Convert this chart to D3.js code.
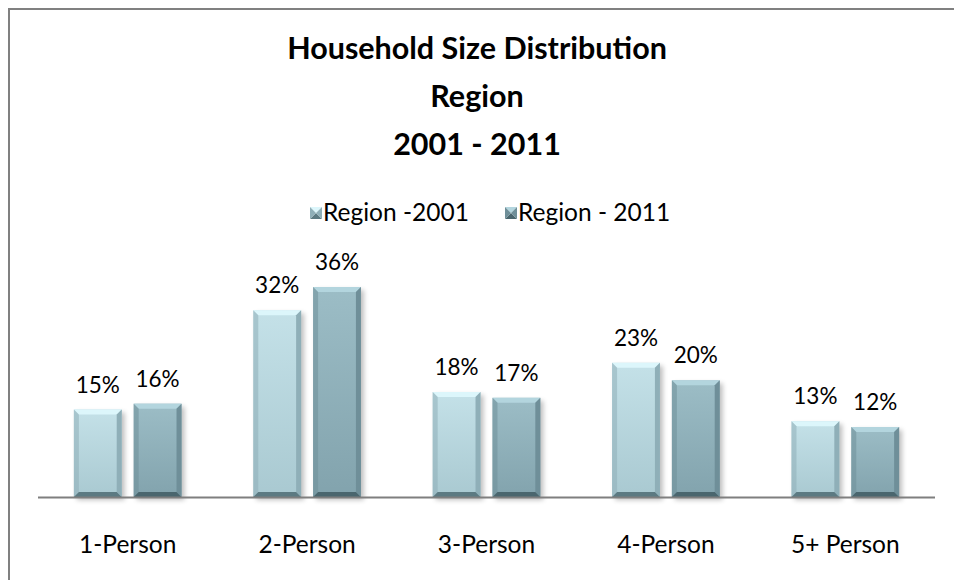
<!DOCTYPE html>
<html lang="en">
<head>
    <meta charset="UTF-8">
    <title>Household Size Distribution</title>
    <script src="https://d3js.org/d3.v7.min.js"></script>
    <style>
        body { margin: 0; background: #fff; }
        text { font-family: Lato, "Open Sans", sans-serif; fill: #000; }
    </style>
</head>
<body>
    <script>
        // Chart data
        const categories = ["1-Person", "2-Person", "3-Person", "4-Person", "5+ Person"];
        const seriesNames = ["Region -2001", "Region - 2011"];
        const values2001 = [15, 32, 18, 23, 13];
        const values2011 = [16, 36, 17, 20, 12];
        const titleLines = ["Household Size Distribution", "Region", "2001 - 2011"];

        const width = 954, height = 580;
        const margin = {left: 38, right: 19, top: 0, bottom: 83};
        const baseY = 497;

        // colours per series: face, top bevel, side bevel, bottom bevel
        const palettes = [
            {face: ["#c4e1e8", "#a9c9d1"], top: "#dcf6fb", side: "#8fafb8", bottom: "#5c7a82"},
            {face: ["#9cbdc6", "#82a3ad"], top: "#b3d5de", side: "#6f8f99", bottom: "#4a666e"}
        ];

        const svg = d3.select("body").append("svg")
            .attr("width", width)
            .attr("height", height);

        const defs = svg.append("defs");
        palettes.forEach((p, i) => {
            const g = defs.append("linearGradient")
                .attr("id", "face" + i)
                .attr("x1", 0).attr("y1", 0).attr("x2", 0).attr("y2", 1);
            g.append("stop").attr("offset", "0%").attr("stop-color", p.face[0]);
            g.append("stop").attr("offset", "100%").attr("stop-color", p.face[1]);
        });
        defs.append("filter").attr("id", "shadow")
            .attr("x", "-20%").attr("y", "-20%").attr("width", "150%").attr("height", "150%")
            .append("feGaussianBlur").attr("stdDeviation", 2.5);

        // chart frame
        svg.append("path")
            .attr("d", `M9,${height + 5}V9H${width + 5}`)
            .attr("fill", "none")
            .attr("stroke", "#808080")
            .attr("stroke-width", 2);

        // scales
        const x0 = d3.scaleBand()
            .domain(categories)
            .range([margin.left, width - margin.right])
            .paddingInner(0.4)
            .paddingOuter(0.2);
        const x1 = d3.scaleBand()
            .domain([0, 1])
            .range([0, x0.bandwidth()])
            .paddingInner(0.2);
        const y = d3.scaleLinear()
            .domain([0, 36])
            .range([baseY, 287]);

        const rows = categories.map((c, i) => ({cat: c, vals: [values2001[i], values2011[i]]}));

        // bars
        const groups = svg.selectAll(".group")
            .data(rows)
            .enter().append("g")
            .attr("class", "group")
            .attr("transform", d => `translate(${x0(d.cat)},0)`);

        const bars = groups.selectAll(".bar")
            .data(d => d.vals.map((v, s) => ({v, s})))
            .enter().append("g")
            .attr("class", "bar");

        bars.each(function(d) {
            const g = d3.select(this);
            const p = palettes[d.s];
            const bx = x1(d.s), bw = x1.bandwidth();
            const top = y(d.v), bh = baseY - top;
            const e = 5; // bevel size

            g.append("rect")
                .attr("x", bx + 3).attr("y", top + 3)
                .attr("width", bw).attr("height", bh)
                .attr("fill", "#000").attr("opacity", 0.25)
                .attr("filter", "url(#shadow)");
            g.append("rect")
                .attr("x", bx).attr("y", top)
                .attr("width", bw).attr("height", bh)
                .attr("fill", `url(#face${d.s})`);
            // bevel edges
            g.append("polygon")
                .attr("points", [[bx, top], [bx + bw, top], [bx + bw - e, top + e], [bx + e, top + e]].join(" "))
                .attr("fill", p.top);
            g.append("polygon")
                .attr("points", [[bx, top], [bx + e, top + e], [bx + e, baseY - e], [bx, baseY]].join(" "))
                .attr("fill", p.side).attr("opacity", 0.55);
            g.append("polygon")
                .attr("points", [[bx + bw, top], [bx + bw - e, top + e], [bx + bw - e, baseY - e], [bx + bw, baseY]].join(" "))
                .attr("fill", p.side);
            g.append("polygon")
                .attr("points", [[bx, baseY], [bx + e, baseY - e], [bx + bw - e, baseY - e], [bx + bw, baseY]].join(" "))
                .attr("fill", p.bottom);

            g.append("text")
                .attr("x", bx + bw / 2)
                .attr("y", top - 17)
                .attr("text-anchor", "middle")
                .style("font-size", "22.5px")
                .text(d.v + "%");
        });

        // axis baseline
        svg.append("line")
            .attr("x1", margin.left).attr("x2", width - margin.right)
            .attr("y1", baseY + 0.5).attr("y2", baseY + 0.5)
            .attr("stroke", "#7f7f7f").attr("stroke-width", 2);

        // category labels
        svg.selectAll(".cat")
            .data(categories)
            .enter().append("text")
            .attr("class", "cat")
            .attr("x", d => x0(d) + x0.bandwidth() / 2)
            .attr("y", 553)
            .attr("text-anchor", "middle")
            .style("font-size", "24.5px")
            .text(d => d);

        // title
        svg.selectAll(".title")
            .data(titleLines)
            .enter().append("text")
            .attr("class", "title")
            .attr("x", 477)
            .attr("y", (d, i) => 59 + i * 48)
            .attr("text-anchor", "middle")
            .style("font-size", "30.5px")
            .style("font-weight", "bold")
            .text(d => d);

        // legend
        const legendX = [310, 505];
        const legend = svg.selectAll(".legend")
            .data(seriesNames)
            .enter().append("g")
            .attr("class", "legend")
            .attr("transform", (d, i) => `translate(${legendX[i]},207)`);
        legend.each(function(d, i) {
            const g = d3.select(this);
            const p = palettes[i];
            g.append("polygon").attr("points", "0,0 12,0 6,6").attr("fill", p.top);
            g.append("polygon").attr("points", "0,12 12,12 6,6").attr("fill", p.bottom);
            g.append("polygon").attr("points", "0,0 6,6 0,12").attr("fill", p.side);
            g.append("polygon").attr("points", "12,0 6,6 12,12").attr("fill", p.side);
        });
        legend.append("text")
            .attr("x", 13)
            .attr("y", 14)
            .style("font-size", "24.5px")
            .text(d => d);
    </script>
</body>
</html>
